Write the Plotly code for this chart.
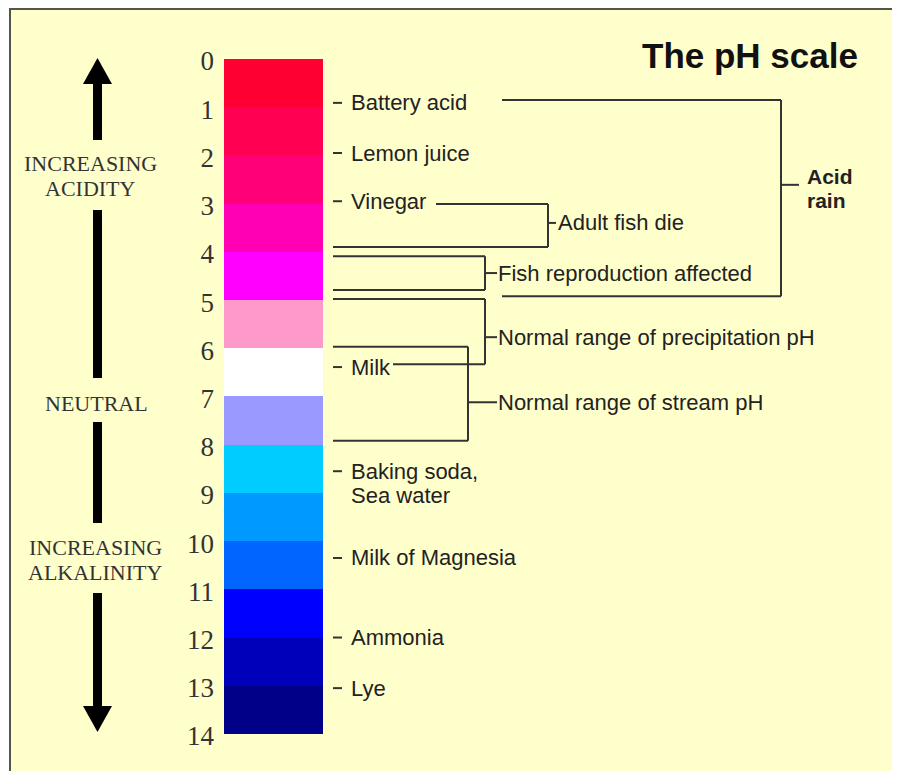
import plotly.graph_objects as go

# ---------------- data ----------------
ph_start = list(range(14))
band_colors = ["#FF0033", "#FF0052", "#FF0078", "#FF00B4", "#FF00FF", "#FF99CC", "#FFFFFF",
               "#9999FF", "#00CCFF", "#0099FF", "#0066FF", "#0000FF", "#0000BB", "#000088"]
tick_values = list(range(15))
tick_labels = [str(v) for v in tick_values]

substances = ["Battery acid", "Lemon juice", "Vinegar", "Milk", "Baking soda,<br>Sea water",
              "Milk of Magnesia", "Ammonia", "Lye"]
substance_ph = [0.91, 1.95, 2.95, 6.39, 8.55, 10.35, 12.0, 13.05]

bracket_labels = ["Acid<br>rain", "Adult fish die", "Fish reproduction affected",
                  "Normal range of precipitation pH", "Normal range of stream pH"]
bracket_top = [0.85, 3.01, 4.09, 4.98, 5.97]
bracket_bottom = [4.92, 3.90, 4.79, 6.33, 7.92]
bracket_mark = [2.61, 3.40, 4.44, 5.77, 7.12]

side_labels = ["INCREASING<br>ACIDITY", "NEUTRAL", "INCREASING<br>ALKALINITY"]

# ---------------- styling / layout helpers ----------------
PAGE_W, PAGE_H = 900, 771
OFF = 8                      # default body margin of the page
W, H = PAGE_W - OFF, PAGE_H - OFF
PX_PER_PH = 48.21
TOP_PX = 59
ph_top = (OFF - TOP_PX) / PX_PER_PH
ph_bot = (OFF + H - TOP_PX) / PX_PER_PH

BAR_X0, BAR_X1 = 224, 323
LINE_COL = "#333333"
TXT_COL = "#222222"
SERIF = "Liberation Serif, Times New Roman, serif"
SANS = "Liberation Sans, Arial, sans-serif"

fig = go.Figure()

fig.add_trace(go.Bar(
    x=[(BAR_X0 + BAR_X1) / 2] * len(ph_start),
    y=[1] * len(ph_start),
    base=ph_start,
    width=BAR_X1 - BAR_X0,
    marker=dict(color=band_colors, line=dict(width=0)),
    hoverinfo="skip",
    showlegend=False,
))

shapes = []
annotations = []

# background panel (pale yellow) and its left / top border
shapes.append(dict(type="rect", xref="paper", yref="paper",
                   x0=(10 - OFF) / W, x1=1.5, y0=-0.5, y1=1 - 1 / H,
                   fillcolor="#FFFFCC", line=dict(width=0), layer="below"))
shapes.append(dict(type="path", xref="paper", yref="paper",
                   path=f"M {(10 - OFF) / W} -0.5 L {(10 - OFF) / W} {1 - 1 / H} L 1.5 {1 - 1 / H}",
                   line=dict(color="#55554a", width=2), layer="below"))

def hline(x0, x1, y, yref="y"):
    shapes.append(dict(type="line", xref="x", yref=yref, x0=x0, x1=x1, y0=y, y1=y,
                       line=dict(color=LINE_COL, width=2)))

def vline(x, y0, y1, yref="y"):
    shapes.append(dict(type="line", xref="x", yref=yref, x0=x, x1=x, y0=y0, y1=y1,
                       line=dict(color=LINE_COL, width=2)))

def lines_text(text, x, y, yref, spacing, font, xanchor="left", first_shift=0):
    for k, ln in enumerate(text.split("<br>")):
        annotations.append(dict(x=x, y=y, xref="x", yref=yref, text=ln, showarrow=False,
                                xanchor=xanchor, yanchor="middle",
                                yshift=first_shift - spacing * k, font=font))

# substances
for name, ph in zip(substances, substance_ph):
    hline(333, 342, ph)
    lines_text(name, 349, ph, "y", 24, dict(family=SANS, size=22, color=TXT_COL))

# brackets: (top line start x, bottom line start x, vertical x, tick end x, text x, bold)
bracket_style = [
    (502, 502, 781, 799, 805, True),
    (436, 333, 548, 556, 556, False),
    (333, 333, 485, 497, 496, False),
    (333, 393, 485, 497, 496, False),
    (333, 333, 468, 497, 496, False),
]
for lab, t, b, m, st in zip(bracket_labels, bracket_top, bracket_bottom, bracket_mark, bracket_style):
    xt, xb, xv, xtick, xtxt, bold = st
    hline(xt, xv, t)
    hline(xb, xv, b)
    vline(xv, t, b)
    hline(xv, xtick, m)
    if bold:
        txt = "<br>".join("<b>" + s + "</b>" for s in lab.split("<br>"))
        lines_text(txt, xtxt, m, "y", 24, dict(family=SANS, size=21, color=TXT_COL),
                   first_shift=8)
    else:
        lines_text(lab, xtxt, m, "y", 24, dict(family=SANS, size=22, color=TXT_COL))

# title
annotations.append(dict(x=750, y=55, xref="x", yref="y2", text="<b>The pH scale</b>",
                        showarrow=False, xanchor="center", yanchor="middle",
                        font=dict(family=SANS, size=35, color="#111111")))

# left side labels (first-line centre positions)
side_pos = [(90, 163), (96, 403), (95, 547)]
for lab, (sx, sy) in zip(side_labels, side_pos):
    lines_text(lab, sx, sy, "y2", 25, dict(family=SERIF, size=22, color="#333333"),
               xanchor="center")

# arrows
AX0, AX1, AXC = 93, 102, 97.5
for y0, y1 in [(83, 140), (210, 378), (422, 523), (593, 708)]:
    shapes.append(dict(type="rect", xref="x", yref="y2", x0=AX0, x1=AX1, y0=y0, y1=y1,
                       fillcolor="#000000", line=dict(width=0)))
shapes.append(dict(type="path", xref="x", yref="y2",
                   path=f"M 83 84 L {AXC} 58 L 112 84 Z", fillcolor="#000000", line=dict(width=0)))
shapes.append(dict(type="path", xref="x", yref="y2",
                   path=f"M 83 706 L {AXC} 732 L 112 706 Z", fillcolor="#000000", line=dict(width=0)))

fig.update_layout(
    width=W, height=H,
    margin=dict(l=0, r=0, t=0, b=0),
    paper_bgcolor="#FFFFFF",
    plot_bgcolor="rgba(0,0,0,0)",
    showlegend=False,
    bargap=0,
    xaxis=dict(range=[OFF, OFF + W], visible=False, fixedrange=True),
    yaxis=dict(range=[ph_bot, ph_top], anchor="free", position=(214 - OFF) / W, side="left",
               tickvals=tick_values, ticktext=tick_labels, ticks="", showline=False,
               showgrid=False, zeroline=False, ticklabelshift=-2,
               tickfont=dict(family=SERIF, size=27, color="#333333")),
    yaxis2=dict(range=[OFF + H, OFF], overlaying="y", visible=False),
    shapes=shapes,
    annotations=annotations,
)

fig.write_html("out.html")
